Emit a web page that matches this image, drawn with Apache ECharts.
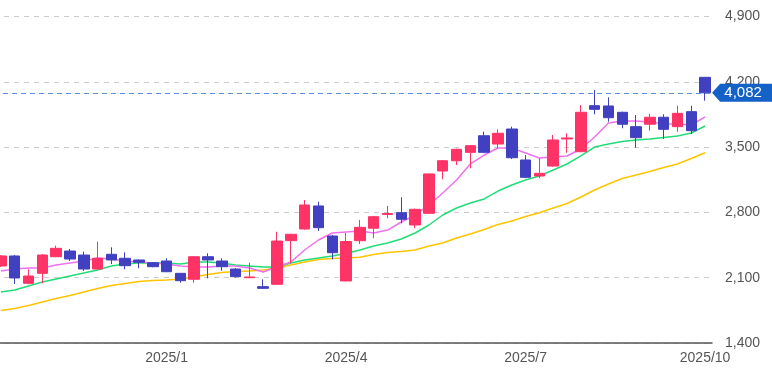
<!DOCTYPE html>
<html>
<head>
<meta charset="utf-8">
<script src="https://cdn.jsdelivr.net/npm/echarts@6/dist/echarts.min.js"></script>
<style>
html,body{margin:0;padding:0;background:#fff;overflow:hidden;width:772px;height:379px;}
#chart{width:778px;height:379px;margin-left:-6px;}
</style>
</head>
<body>
<div id="chart"></div>
<script>
const dates = [
  '2024-10-14','2024-10-21','2024-10-28','2024-11-04','2024-11-11','2024-11-18','2024-11-25',
  '2024-12-02','2024-12-09','2024-12-16','2024-12-23','2024-12-30',
  '2025-01-06','2025-01-13','2025-01-20','2025-01-27','2025-02-03','2025-02-10','2025-02-17','2025-02-24',
  '2025-03-03','2025-03-10','2025-03-17','2025-03-24','2025-03-31',
  '2025-04-07','2025-04-14','2025-04-21','2025-04-28','2025-05-05','2025-05-12','2025-05-19','2025-05-26',
  '2025-06-02','2025-06-09','2025-06-16','2025-06-23','2025-06-30',
  '2025-07-07','2025-07-14','2025-07-21','2025-07-28','2025-08-04','2025-08-11','2025-08-18','2025-08-25',
  '2025-09-01','2025-09-08','2025-09-15','2025-09-22','2025-09-29','2025-10-06'
];
const opens = [2226,2333,2040,2147,2325,2386,2343,2193,2351,2308,2290,2261,2279,2147,2083,2325,2279,2193,2100,2004,
  2029,2497,2622,2869,2547,2065,2497,2630,2778,2797,2665,2790,3244,3354,3444,3622,3533,3694,3362,3190,
  3297,3587,3451,3944,3941,3873,3719,3745,3820,3719,3880,4248];
const closes = [2333,2097,2118,2343,2415,2300,2193,2308,2290,2229,2265,2218,2164,2068,2325,2290,2218,2111,2108,1986,
  2493,2565,2879,2636,2368,2488,2640,2754,2788,2726,2833,3212,3354,3476,3515,3444,3648,3386,3176,3219,
  3576,3598,3873,3905,3815,3745,3601,3820,3691,3862,3676,4082];
const lows = [2215,2032,2030,2040,2320,2279,2172,2190,2247,2190,2201,2212,2160,2046,2046,2094,2175,2100,2095,1980,
  2022,2254,2615,2601,2297,2060,2461,2522,2737,2683,2630,2786,3155,3308,3273,3436,3487,3372,3166,3166,
  3290,3440,3445,3852,3772,3702,3494,3676,3587,3665,3641,3997];
const highs = [2343,2343,2190,2354,2443,2408,2379,2486,2426,2372,2295,2268,2308,2150,2333,2362,2308,2204,2261,2083,
  2593,2570,2933,2915,2558,2579,2719,2762,2869,2962,2840,3218,3362,3483,3522,3665,3691,3719,3415,3380,
  3630,3648,3951,4112,4034,3880,3844,3855,3852,3944,3944,4252];
const maShort = [2172,2193,2204,2204,2236,2258,2279,2311,2300,2279,2268,2258,2247,2226,2215,2215,2226,2226,2204,2161,
  2215,2268,2397,2504,2579,2590,2601,2579,2611,2697,2772,2879,3008,3147,3319,3415,3490,3490,3437,3383,
  3394,3405,3480,3608,3758,3780,3780,3769,3748,3748,3737,3823];
const maMid = [1947,1968,2011,2054,2086,2118,2150,2183,2226,2247,2258,2258,2258,2247,2268,2268,2258,2236,2226,2215,
  2215,2258,2290,2311,2333,2359,2397,2440,2472,2515,2579,2665,2772,2847,2901,2944,3029,3094,3147,3190,
  3255,3319,3405,3501,3533,3560,3576,3587,3603,3619,3651,3726];
const maLong = [1748,1770,1802,1840,1877,1909,1947,1984,2016,2038,2059,2070,2075,2086,2108,2134,2156,2167,2172,2183,
  2204,2236,2268,2295,2306,2311,2319,2349,2370,2381,2397,2440,2472,2526,2568,2617,2670,2708,2756,2797,
  2847,2895,2965,3040,3104,3163,3201,3238,3281,3319,3378,3440];
const yTicks = {min: 1400, max: 4900, step: 700};
const lastPrice = 4082;

const candleData = opens.map((o, i) => [o, closes[i], lows[i], highs[i]]);
const fmt = v => Number(v).toLocaleString('en-US');
const FONT = "'Liberation Sans', Arial, sans-serif";

function isQuarterStart(i) {
  if (i === 0) return false;
  const m = +dates[i].slice(5, 7), pm = +dates[i - 1].slice(5, 7);
  return m !== pm && (m % 3 === 1);
}

const chart = echarts.init(document.getElementById('chart'), null, {renderer: 'canvas'});
chart.setOption({
  animation: false,
  backgroundColor: '#fff',
  grid: {left: 0, right: 60, top: 16.5, bottom: 36, containLabel: false},
  xAxis: {
    type: 'category',
    data: dates,
    boundaryGap: true,
    axisLine: {show: true, lineStyle: {color: '#555', width: 1.5}},
    axisTick: {show: false},
    splitLine: {show: false},
    axisLabel: {
      interval: (i) => isQuarterStart(i),
      formatter: (v) => v.slice(0, 4) + '/' + (+v.slice(5, 7)),
      color: '#555', fontSize: 14, fontFamily: FONT, margin: 8
    }
  },
  yAxis: {
    type: 'value',
    position: 'right',
    min: yTicks.min, max: yTicks.max, interval: yTicks.step,
    axisLine: {show: false},
    axisTick: {show: false},
    splitLine: {show: true, lineStyle: {color: '#ccc', type: [5, 5], width: 1}},
    axisLabel: {formatter: fmt, color: '#555', fontSize: 14, fontFamily: FONT, margin: 13}
  },
  series: [
    {
      type: 'line', data: maLong, symbol: 'none', smooth: false,
      lineStyle: {color: '#ffc400', width: 1.5}, z: 3
    },
    {
      type: 'line', data: maMid, symbol: 'none', smooth: false,
      lineStyle: {color: '#22dd77', width: 1.5}, z: 3
    },
    {
      type: 'line', data: maShort, symbol: 'none', smooth: false,
      lineStyle: {color: '#f070f0', width: 1.5}, z: 3
    },
    {
      type: 'candlestick',
      data: candleData,
      barWidth: 11,
      clip: false,
      z: 4,
      itemStyle: {
        color: '#ff3366', color0: '#4040c0',
        borderColor: '#ff3366', borderColor0: '#4040c0', borderWidth: 1
      },
      markLine: {
        silent: true,
        symbol: ['none', 'none'],
        label: {show: false},
        lineStyle: {color: '#5b93da', type: [5, 4], width: 1},
        data: [{yAxis: lastPrice}]
      },
      markPoint: {
        silent: true,
        symbol: 'path://M0,9L8,0L60,0L60,18L8,18Z',
        symbolSize: [60, 18],
        symbolKeepAspect: false,
        symbolOffset: [37, 0],
        itemStyle: {color: '#1462c8'},
        label: {
          show: true, position: 'inside', color: '#fff', fontSize: 15, fontFamily: FONT,
          offset: [1, 0],
          formatter: () => fmt(lastPrice)
        },
        data: [{coord: [dates[dates.length - 1], lastPrice]}]
      }
    }
  ]
});
</script>
</body>
</html>
